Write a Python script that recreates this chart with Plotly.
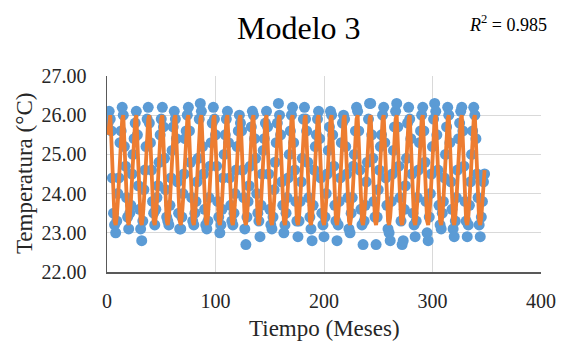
import plotly.graph_objects as go

# Months (time index)
months = list(range(1, 349))

observed = [
    25.8, 26.1, 25.9, 25.6, 24.4, 23.5, 23.2, 23.0, 23.3, 24.0, 24.4, 25.3,
    25.6, 26.2, 26.0, 25.2, 24.7, 23.9, 23.4, 23.1, 23.5, 23.7, 24.5, 25.0,
    25.4, 25.8, 26.1, 25.5, 24.2, 23.6, 23.1, 22.8, 23.3, 24.1, 24.6, 25.2,
    25.9, 26.2, 25.8, 25.3, 24.6, 23.8, 23.5, 23.2, 23.6, 23.9, 24.2, 24.8,
    25.5, 25.9, 26.2, 25.7, 24.9, 24.1, 23.4, 23.3, 23.2, 23.7, 24.4, 25.1,
    25.7, 26.1, 25.9, 25.4, 24.3, 23.5, 23.1, 23.1, 23.4, 24.0, 24.5, 25.4,
    25.6, 26.0, 26.2, 25.6, 24.8, 23.9, 23.3, 23.2, 23.5, 23.8, 24.3, 24.9,
    25.9, 26.3, 26.1, 25.2, 24.5, 23.6, 23.2, 23.1, 23.3, 23.9, 24.7, 25.3,
    25.8, 26.2, 25.9, 25.5, 24.7, 23.8, 23.4, 23.0, 23.2, 23.6, 24.4, 25.0,
    25.5, 25.9, 26.1, 25.3, 24.4, 23.7, 23.3, 23.2, 23.5, 24.0, 24.6, 25.2,
    25.6, 26.0, 25.8, 25.6, 24.6, 23.9, 23.1, 22.7, 23.4, 23.8, 24.2, 24.7,
    25.7, 26.1, 26.0, 25.4, 24.9, 24.0, 23.5, 23.3, 22.9, 23.7, 24.5, 25.1,
    25.4, 25.8, 26.1, 25.7, 24.5, 23.6, 23.2, 23.1, 23.4, 24.1, 24.8, 25.3,
    25.8, 26.3, 26.0, 25.5, 24.3, 23.7, 23.0, 23.2, 23.5, 23.9, 24.4, 25.0,
    25.6, 26.0, 26.2, 25.3, 24.6, 23.8, 23.3, 22.9, 23.3, 23.8, 24.3, 24.9,
    25.9, 26.2, 25.9, 25.6, 24.8, 23.9, 23.4, 23.1, 22.8, 23.7, 24.6, 25.2,
    25.5, 25.9, 26.1, 25.4, 24.4, 23.5, 23.2, 22.9, 23.4, 24.0, 24.5, 25.1,
    25.7, 26.1, 26.0, 25.5, 24.7, 23.7, 23.3, 22.8, 23.2, 23.8, 24.4, 25.3,
    25.8, 26.0, 25.9, 25.2, 24.5, 23.9, 23.1, 23.0, 23.5, 23.9, 24.7, 25.0,
    25.6, 26.2, 26.1, 25.6, 24.6, 23.6, 23.2, 22.7, 23.3, 23.7, 24.3, 24.8,
    25.9, 26.3, 26.3, 25.5, 24.9, 23.8, 23.4, 22.7, 23.4, 24.1, 24.6, 25.2,
    25.5, 26.0, 26.2, 25.3, 24.4, 23.7, 23.1, 23.0, 22.8, 23.8, 24.5, 25.1,
    25.7, 26.1, 26.3, 25.7, 24.7, 23.9, 23.3, 22.7, 22.8, 23.6, 24.2, 24.9,
    25.8, 26.2, 25.9, 25.4, 24.5, 23.5, 23.2, 22.9, 23.3, 23.9, 24.6, 25.3,
    25.6, 26.0, 26.2, 25.6, 24.8, 23.8, 23.0, 22.8, 23.4, 24.0, 24.5, 25.2,
    25.9, 26.3, 26.1, 25.5, 24.6, 23.7, 23.2, 23.1, 23.5, 23.8, 24.4, 25.0,
    25.7, 26.2, 26.0, 25.3, 24.3, 23.6, 23.1, 22.9, 23.3, 23.9, 24.6, 25.4,
    25.8, 26.1, 26.2, 25.6, 24.7, 23.8, 23.3, 22.9, 23.2, 23.7, 24.3, 25.0,
    25.6, 26.2, 26.0, 25.4, 24.5, 23.9, 23.2, 22.9, 23.4, 23.8, 24.3, 24.5,
]

# Model 3 fitted values (°C)
model = [
    25.5, 25.9, 26.0, 25.4, 24.5, 23.7, 23.3, 23.2, 23.4, 23.8, 24.3, 24.9,
    25.5, 25.9, 26.0, 25.4, 24.5, 23.7, 23.3, 23.2, 23.4, 23.8, 24.3, 24.9,
    25.5, 25.9, 26.0, 25.4, 24.5, 23.7, 23.3, 23.2, 23.4, 23.8, 24.3, 24.9,
    25.5, 25.9, 26.0, 25.4, 24.5, 23.7, 23.3, 23.2, 23.4, 23.8, 24.3, 24.9,
    25.5, 25.9, 26.0, 25.4, 24.5, 23.7, 23.3, 23.2, 23.4, 23.8, 24.3, 24.9,
    25.5, 25.9, 26.0, 25.4, 24.5, 23.7, 23.3, 23.2, 23.4, 23.8, 24.3, 24.9,
    25.5, 25.9, 26.0, 25.4, 24.5, 23.7, 23.3, 23.2, 23.4, 23.8, 24.3, 24.9,
    25.5, 25.9, 26.0, 25.4, 24.5, 23.7, 23.3, 23.2, 23.4, 23.8, 24.3, 24.9,
    25.5, 25.9, 26.0, 25.4, 24.5, 23.7, 23.3, 23.2, 23.4, 23.8, 24.3, 24.9,
    25.5, 25.9, 26.0, 25.4, 24.5, 23.7, 23.3, 23.2, 23.4, 23.8, 24.3, 24.9,
    25.5, 25.9, 26.0, 25.4, 24.5, 23.7, 23.3, 23.2, 23.4, 23.8, 24.3, 24.9,
    25.5, 25.9, 26.0, 25.4, 24.5, 23.7, 23.3, 23.2, 23.4, 23.8, 24.3, 24.9,
    25.5, 25.9, 26.0, 25.4, 24.5, 23.7, 23.3, 23.2, 23.4, 23.8, 24.3, 24.9,
    25.5, 25.9, 26.0, 25.4, 24.5, 23.7, 23.3, 23.2, 23.4, 23.8, 24.3, 24.9,
    25.5, 25.9, 26.0, 25.4, 24.5, 23.7, 23.3, 23.2, 23.4, 23.8, 24.3, 24.9,
    25.5, 25.9, 26.0, 25.4, 24.5, 23.7, 23.3, 23.2, 23.4, 23.8, 24.3, 24.9,
    25.5, 25.9, 26.0, 25.4, 24.5, 23.7, 23.3, 23.2, 23.4, 23.8, 24.3, 24.9,
    25.5, 25.9, 26.0, 25.4, 24.5, 23.7, 23.3, 23.2, 23.4, 23.8, 24.3, 24.9,
    25.5, 25.9, 26.0, 25.4, 24.5, 23.7, 23.3, 23.2, 23.4, 23.8, 24.3, 24.9,
    25.5, 25.9, 26.0, 25.4, 24.5, 23.7, 23.3, 23.2, 23.4, 23.8, 24.3, 24.9,
    25.5, 25.9, 26.0, 25.4, 24.5, 23.7, 23.3, 23.2, 23.4, 23.8, 24.3, 24.9,
    25.5, 25.9, 26.0, 25.4, 24.5, 23.7, 23.3, 23.2, 23.4, 23.8, 24.3, 24.9,
    25.5, 25.9, 26.0, 25.4, 24.5, 23.7, 23.3, 23.2, 23.4, 23.8, 24.3, 24.9,
    25.5, 25.9, 26.0, 25.4, 24.5, 23.7, 23.3, 23.2, 23.4, 23.8, 24.3, 24.9,
    25.5, 25.9, 26.0, 25.4, 24.5, 23.7, 23.3, 23.2, 23.4, 23.8, 24.3, 24.9,
    25.5, 25.9, 26.0, 25.4, 24.5, 23.7, 23.3, 23.2, 23.4, 23.8, 24.3, 24.9,
    25.5, 25.9, 26.0, 25.4, 24.5, 23.7, 23.3, 23.2, 23.4, 23.8, 24.3, 24.9,
    25.5, 25.9, 26.0, 25.4, 24.5, 23.7, 23.3, 23.2, 23.4, 23.8, 24.3, 24.9,
    25.5, 25.9, 26.0, 25.4, 24.5, 23.7, 23.3, 23.2, 23.4, 23.8, 24.3, 24.6,
]

x_ticks = [0, 100, 200, 300, 400]
y_ticks = [22, 23, 24, 25, 26, 27]

title_text = "Modelo 3"
r2_text = "<i>R</i><sup>2</sup> = 0.985"
x_title = "Tiempo (Meses)"
y_title = "Temperatura (°C)"

SERIF = "Liberation Serif"
TXT = "#262626"

fig = go.Figure()
fig.add_trace(go.Scatter(
    x=months, y=observed, mode="markers",
    marker=dict(color="#5B9BD5", size=11, line=dict(width=0)),
    showlegend=False,
))
fig.add_trace(go.Scatter(
    x=months, y=model, mode="lines",
    line=dict(color="#ED7D31", width=3.8),
    showlegend=False,
))

fig.update_layout(
    width=567, height=341,
    margin=dict(l=107, r=26, t=76, b=69, autoexpand=False),
    paper_bgcolor="white", plot_bgcolor="white",
    font=dict(family=SERIF, color=TXT),
    annotations=[
        dict(text=title_text, xref="paper", yref="paper", x=0.442, y=1.245,
             xanchor="center", yanchor="middle", showarrow=False,
             font=dict(family=SERIF, size=32, color="#000000")),
        dict(text=r2_text, xref="paper", yref="paper", x=0.924, y=1.27,
             xanchor="center", yanchor="middle", showarrow=False,
             font=dict(family=SERIF, size=18, color="#000000")),
        dict(text=x_title, xref="paper", yref="paper", x=0.5, y=-0.286,
             xanchor="center", yanchor="middle", showarrow=False,
             font=dict(family=SERIF, size=23, color=TXT)),
        dict(text=y_title, xref="paper", yref="paper", x=-0.191, y=0.5,
             xanchor="center", yanchor="middle", showarrow=False, textangle=-90,
             font=dict(family=SERIF, size=23, color=TXT)),
    ],
)
fig.update_xaxes(
    range=[0, 400], tickvals=x_ticks, ticktext=[str(v) for v in x_ticks],
    showgrid=True, gridcolor="#D9D9D9", gridwidth=1,
    showline=True, linecolor="#595959", linewidth=1.5,
    ticks="", zeroline=False, ticklabelstandoff=10, automargin=False,
    tickfont=dict(family=SERIF, size=20, color=TXT),
)
fig.update_yaxes(
    range=[22, 27], tickvals=y_ticks, ticktext=[f"{v:.2f}" for v in y_ticks],
    showgrid=True, gridcolor="#D9D9D9", gridwidth=1,
    showline=True, linecolor="#595959", linewidth=1.5,
    ticks="", zeroline=False, ticklabelstandoff=15, automargin=False,
    tickfont=dict(family=SERIF, size=20, color=TXT),
)

fig.write_html(
    "out.html",
    config={"displayModeBar": False, "staticPlot": True},
    post_script="document.body.style.margin='0';document.body.style.overflow='hidden';",
)
